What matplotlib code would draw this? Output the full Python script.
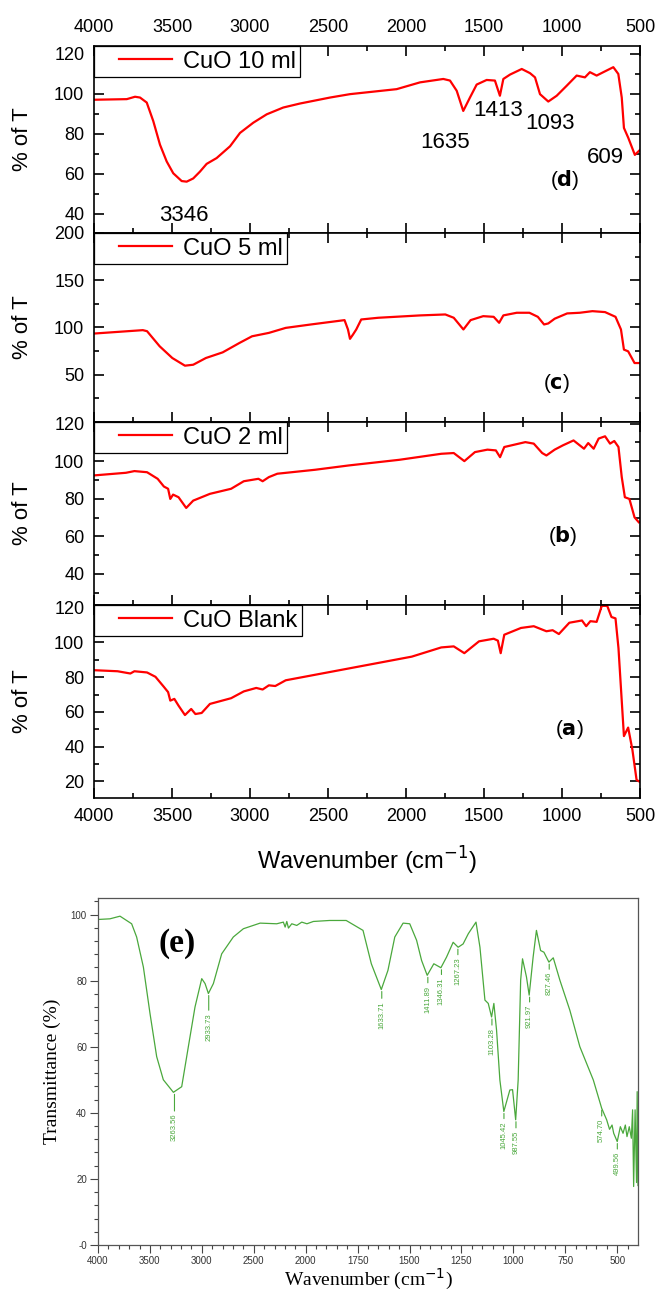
import numpy as np
import matplotlib
matplotlib.use('Agg')
import matplotlib.pyplot as plt
from matplotlib.lines import Line2D
from matplotlib.legend_handler import HandlerLine2D
from matplotlib.ticker import MultipleLocator, FixedLocator, FixedFormatter

plt.rcParams['font.family'] = 'Liberation Sans'

# ---- panel (d) CuO 10 ml
wn_d = [4000, 3790, 3737, 3705, 3662, 3620, 3577, 3534, 3492, 3438, 3406, 3364, 3321, 3278,
        3214, 3128, 3064, 2979, 2893, 2787, 2680, 2487, 2359, 2060, 1910, 1761, 1718, 1675,
        1633, 1590, 1547, 1483, 1430, 1398, 1376, 1333, 1258, 1205, 1173, 1141, 1088, 1034,
        970, 906, 853, 821, 778, 735, 671, 639, 617, 603, 575, 533, 500]
t_d = [97.1, 97.4, 98.6, 98.2, 95.7, 86.4, 74.6, 66.2, 60.3, 56.4, 56.1, 57.7, 61.1, 65.0,
       67.9, 73.8, 80.5, 85.6, 89.8, 93.2, 95.2, 98.2, 99.9, 102.4, 105.8, 107.5, 106.7, 101.6,
       91.5, 98.2, 104.7, 107.0, 106.7, 99.1, 107.5, 109.7, 112.5, 110.4, 108.3, 99.9, 96.2, 99.1,
       104.1, 109.2, 108.3, 110.9, 109.2, 110.9, 113.4, 110.0, 98.2, 83.0, 78.0, 69.5, 72.0]

# ---- panel (c) CuO 5 ml
wn_c = [4000, 3687, 3660, 3579, 3498, 3417, 3364, 3283, 3175, 3067, 2987, 2879, 2771, 2610,
        2394, 2372, 2359, 2340, 2319, 2287, 2178, 1909, 1748, 1694, 1632, 1586, 1505, 1438,
        1403, 1376, 1290, 1209, 1155, 1115, 1088, 1047, 967, 886, 805, 724, 657, 622, 603,
        576, 535, 503]
t_c = [93.6, 97.2, 96.1, 80.1, 67.7, 59.6, 60.6, 67.7, 73.7, 83.7, 90.7, 94.3, 99.6, 103.2,
       107.8, 97.9, 88.0, 92.5, 97.9, 108.5, 110.3, 112.8, 113.8, 110.3, 97.9, 107.8, 112.0, 111.3,
       105.0, 112.8, 115.6, 115.6, 111.3, 103.2, 104.3, 109.3, 114.9, 115.6, 117.3, 116.3, 111.3,
       97.9, 76.6, 74.8, 62.4, 62.4]

# ---- panel (b) CuO 2 ml
wn_b = [4000, 3795, 3741, 3660, 3592, 3552, 3525, 3511, 3493, 3458, 3409, 3364, 3257, 3121,
        3040, 2946, 2919, 2879, 2825, 2583, 2367, 2043, 1774, 1694, 1626, 1558, 1478, 1424,
        1397, 1370, 1235, 1181, 1127, 1100, 1047, 994, 926, 859, 832, 797, 765, 724, 692, 665,
        638, 617, 597, 568, 535, 508]
t_b = [92.4, 93.8, 94.7, 94.1, 90.6, 86.5, 85.3, 79.9, 82.2, 80.8, 75.1, 79.0, 82.6, 85.3,
       89.3, 90.6, 89.3, 91.5, 93.3, 95.4, 97.7, 100.7, 103.9, 104.3, 100.0, 104.8, 106.1, 105.7,
       102.1, 107.5, 110.1, 109.3, 104.3, 103.0, 106.1, 108.4, 111.0, 106.6, 109.6, 106.6, 112.0,
       113.2, 109.3, 110.7, 107.5, 91.5, 80.8, 79.9, 70.1, 67.5]

# ---- panel (a) CuO Blank
wn_a = [4000, 3849, 3767, 3741, 3660, 3606, 3552, 3525, 3511, 3485, 3458, 3417, 3377, 3350,
        3310, 3257, 3121, 3040, 2960, 2919, 2879, 2838, 2771, 2367, 1963, 1774, 1694, 1626,
        1532, 1438, 1411, 1393, 1370, 1263, 1181, 1100, 1060, 1020, 953, 872, 845, 818, 778,
        745, 710, 683, 657, 638, 603, 576, 549, 522, 503]
t_a = [84.0, 83.4, 82.1, 83.4, 82.7, 80.2, 74.4, 71.4, 66.5, 67.5, 63.6, 58.2, 61.7, 58.8,
       59.4, 64.6, 67.9, 71.8, 73.8, 72.9, 75.3, 74.9, 78.2, 85.0, 91.8, 97.1, 97.7, 93.8,
       100.6, 102.1, 101.0, 93.8, 104.4, 108.3, 109.3, 106.4, 107.0, 104.8, 111.3, 112.6, 109.3,
       112.2, 111.8, 121.0, 121.0, 114.6, 113.8, 96.7, 46.1, 51.0, 38.4, 20.9, 19.9]

# ---- panel (e) reference spectrum
wn_e = [4000, 3885, 3788, 3676, 3628, 3563, 3499, 3435, 3371, 3274, 3194, 3130, 3066, 3001,
        2969, 2937, 2889, 2809, 2697, 2600, 2439, 2279, 2215, 2198, 2182, 2166, 2134, 2086,
        2038, 1994, 1963, 1885, 1805, 1724, 1684, 1636, 1604, 1571, 1531, 1499, 1466, 1442,
        1415, 1383, 1349, 1322, 1290, 1266, 1242, 1217, 1180, 1161, 1137, 1121, 1105, 1094,
        1081, 1065, 1046, 1017, 1004, 989, 977, 965, 956, 937, 924, 905, 889, 869, 853, 829,
        808, 776, 728, 680, 615, 575, 551, 537, 525, 517, 500, 485, 472, 461, 453, 442, 432,
        426, 421, 414, 407, 404, 400]
t_e = [98.5, 98.7, 99.5, 97.2, 93.2, 84.1, 70.0, 57.0, 50.0, 46.2, 47.9, 60.0, 72.0, 80.6,
       79.1, 76.1, 79.1, 88.1, 93.2, 95.7, 97.4, 97.2, 97.7, 96.2, 97.9, 95.9, 97.2, 96.7,
       97.7, 97.2, 97.9, 98.2, 98.2, 95.2, 85.1, 77.3, 83.1, 93.2, 97.4, 97.2, 92.2, 86.1,
       81.6, 85.1, 83.9, 87.1, 91.6, 90.1, 91.1, 94.2, 97.7, 90.1, 74.1, 73.1, 69.0, 73.1,
       65.0, 49.9, 40.4, 46.9, 47.0, 37.9, 49.9, 80.1, 86.6, 81.1, 75.6, 87.1, 95.2, 89.1, 88.6, 85.6,
       86.9, 80.1, 71.0, 60.0, 49.9, 41.4, 37.9, 35.0, 36.3, 33.8, 31.3, 35.8, 33.8, 36.3, 32.8, 35.8, 32.3,
       40.9, 17.7, 40.9, 18.9, 46.4, 18.0]
peak_wn = [3263.56, 2933.73, 1633.71, 1411.89, 1346.31, 1267.23, 1103.28, 1045.42, 987.55,
           921.97, 827.46, 574.70, 499.56]
peak_t = [46.2, 76.1, 77.3, 81.6, 83.9, 90.1, 69.0, 40.4, 37.9, 75.6, 85.6, 41.4, 31.3]
peak_txt = [41.5, 72.0, 75.6, 80.3, 82.8, 88.8, 67.5, 39.2, 36.4, 74.5, 84.4, 40.0, 30.0]

fig = plt.figure(figsize=(6.59, 12.95), dpi=100)
W, H = 659.0, 1295.0


def box(x0, x1, y0, y1):
    return [x0 / W, 1 - y1 / H, (x1 - x0) / W, (y1 - y0) / H]


top_panels = [
    (wn_d, t_d, 'CuO 10 ml', (30.4, 124), [40, 60, 80, 100, 120], [50, 70, 90, 110], 46, 233),
    (wn_c, t_c, 'CuO 5 ml', (0, 200), [50, 100, 150, 200], [25, 75, 125, 175], 233, 422),
    (wn_b, t_b, 'CuO 2 ml', (23.5, 120.8), [40, 60, 80, 100, 120], [30, 50, 70, 90, 110], 422, 605),
    (wn_a, t_a, 'CuO Blank', (10.5, 121.5), [20, 40, 60, 80, 100, 120], [30, 50, 70, 90, 110], 605, 798),
]
axes = []
for wn, t, name, ylim, major, minor, y0, y1 in top_panels:
    ax = fig.add_axes(box(94, 640, y0, y1))
    ax.plot(wn, t, color='red', lw=1.6, label=name)
    ax.set_xlim(4000, 500)
    ax.set_ylim(*ylim)
    ax.xaxis.set_major_locator(MultipleLocator(500))
    ax.xaxis.set_minor_locator(MultipleLocator(250))
    ax.set_yticks(major)
    ax.yaxis.set_minor_locator(FixedLocator(minor))
    ax.tick_params(which='both', direction='in', top=True, right=True,
                   labelbottom=False, labelsize=13, width=1.2, pad=7)
    ax.tick_params(which='major', length=7)
    ax.tick_params(which='minor', length=3.5)
    for s in ax.spines.values():
        s.set_linewidth(1.2)
    ax.set_ylabel('% of T', fontsize=16)
    ax.yaxis.set_label_coords(-0.112, 0.5)
    leg = ax.legend(loc='upper left', borderaxespad=0, fancybox=False, edgecolor='black',
                    framealpha=1, fontsize=17, handlelength=3.1, borderpad=0.2,
                    handletextpad=0.45, handler_map={Line2D: HandlerLine2D(xpad=0.85)})
    leg.get_frame().set_linewidth(0.9)
    axes.append(ax)

ax_d, ax_c, ax_b, ax_a = axes
ax_d.tick_params(labeltop=True)
ax_a.tick_params(labelbottom=True)
ax_a.set_xlabel('Wavenumber (cm$^{-1}$)', fontsize=17)
ax_a.xaxis.set_label_coords(0.5, -0.24)

for txt, x, y in [('3346', 3423, 39), ('1635', 1750, 75.5), ('1413', 1410, 91.6),
                  ('1093', 1077, 85), ('609', 724, 68)]:
    ax_d.text(x, y, txt, fontsize=16, ha='center', va='center')
ax_d.text(981, 56.8, r'($\mathbf{d}$)', fontsize=15, ha='center', va='center')
ax_c.text(1034, 41, r'($\mathbf{c}$)', fontsize=15, ha='center', va='center')
ax_b.text(994, 60.4, r'($\mathbf{b}$)', fontsize=15, ha='center', va='center')
ax_a.text(953, 50, r'($\mathbf{a}$)', fontsize=15, ha='center', va='center')

# ---- bottom panel (e), instrument scale doubles below 2000 cm-1
def fwd(x):
    x = np.asarray(x, dtype=float)
    return np.where(x >= 2000, x, 2 * x - 2000)


def inv(y):
    y = np.asarray(y, dtype=float)
    return np.where(y >= 2000, y, (y + 2000) / 2)


green = '#4aa83c'
ax_e = fig.add_axes(box(98, 638, 898, 1245))
ax_e.set_xscale('function', functions=(fwd, inv))
ax_e.plot(wn_e, t_e, color=green, lw=0.9)
ax_e.set_xlim(4000, 400)
ax_e.set_ylim(0, 105)
e_xt = [4000, 3500, 3000, 2500, 2000, 1750, 1500, 1250, 1000, 750, 500]
ax_e.xaxis.set_major_locator(FixedLocator(e_xt))
ax_e.xaxis.set_major_formatter(FixedFormatter([str(v) for v in e_xt]))
ax_e.xaxis.set_minor_locator(FixedLocator(list(range(2100, 4000, 100)) + list(range(450, 2000, 50))))
ax_e.yaxis.set_major_locator(FixedLocator([0, 20, 40, 60, 80, 100]))
ax_e.yaxis.set_major_formatter(FixedFormatter(['-0', '20', '40', '60', '80', '100']))
ax_e.yaxis.set_minor_locator(MultipleLocator(4))
ax_e.tick_params(which='both', direction='out', labelsize=7, labelcolor='#333333',
                 color='#444444', width=0.8, pad=2)
ax_e.tick_params(which='major', length=6)
ax_e.tick_params(which='minor', length=3)
for s in ax_e.spines.values():
    s.set_color('#555555')
    s.set_linewidth(0.9)
ax_e.set_xlabel('Wavenumber (cm$^{-1}$)', family='Liberation Serif', fontsize=14)
ax_e.xaxis.set_label_coords(0.5, -0.062)
ax_e.set_ylabel('Transmittance (%)', family='Liberation Serif', fontsize=14)
ax_e.yaxis.set_label_coords(-0.069, 0.5)
ax_e.text(3240, 91.3, '(e)', family='Liberation Serif', fontweight='bold', fontsize=24,
          ha='center', va='center')
for x, y, ty in zip(peak_wn, peak_t, peak_txt):
    ax_e.annotate('%.2f' % x, xy=(x, y - 0.6), xytext=(x, ty - 1.8), rotation=90,
                  ha='center', va='top', fontsize=5.5, color=green,
                  arrowprops=dict(arrowstyle='-', color=green, lw=0.8,
                                  shrinkA=0, shrinkB=0))

fig.savefig('out.png', dpi=100)
